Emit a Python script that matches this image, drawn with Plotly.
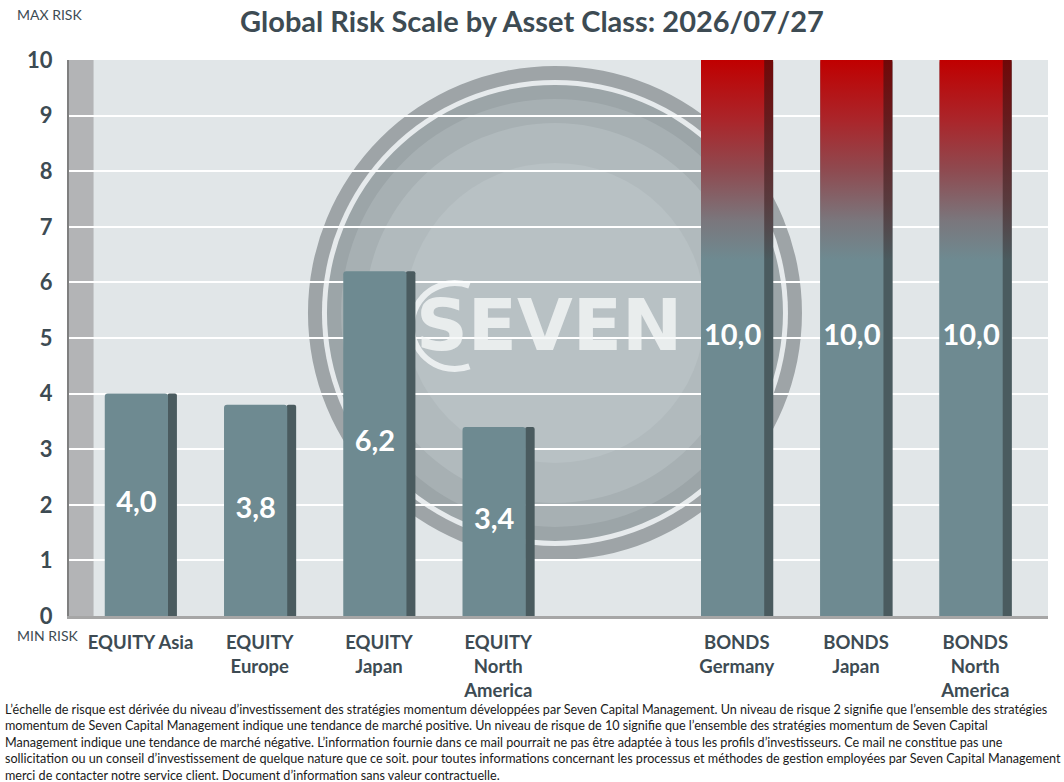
import plotly.graph_objects as go

# ---- data -------------------------------------------------------------
categories = [
    "EQUITY Asia",
    "EQUITY<br>Europe",
    "EQUITY<br>Japan",
    "EQUITY<br>North<br>America",
    "",
    "BONDS<br>Germany",
    "BONDS<br>Japan",
    "BONDS<br>North<br>America",
]
risk = [4.0, 3.8, 6.2, 3.4, None, 10.0, 10.0, 10.0]
y_ticks = list(range(0, 11))
report_date = "2026/07/27"
max_risk = 10

footnote_lines = [
    "L’échelle de risque est dérivée du niveau d’investissement des stratégies momentum développées par Seven Capital Management. Un niveau de risque 2 signifie que l’ensemble des stratégies",
    "momentum de Seven Capital Management indique une tendance de marché positive. Un niveau de risque de 10 signifie que l’ensemble des stratégies momentum de Seven Capital",
    "Management indique une tendance de marché négative. L’information fournie dans ce mail pourrait ne pas être adaptée à tous les profils d’investisseurs. Ce mail ne constitue pas une",
    "sollicitation ou un conseil d’investissement de quelque nature que ce soit. pour toutes informations concernant les processus et méthodes de gestion employées par Seven Capital Management",
    "merci de contacter notre service client. Document d’information sans valeur contractuelle.",
]

# ---- style ------------------------------------------------------------
FONT = "Lato"
TXT = "#3d4b53"
FACE = "#6e8a91"
SIDE = "#4a5b5f"
FACE_L, FACE_W = -0.30, 0.53
SIDE_L, SIDE_W = 0.225, 0.08

face_scale = [
    [0.0, FACE], [0.64, FACE], [0.71, "#7a777d"], [0.80, "#8e4b51"],
    [0.89, "#aa262b"], [1.0, "#c00000"],
]
side_scale = [
    [0.0, SIDE], [0.64, SIDE], [0.75, "#593a3d"], [0.90, "#661a1c"], [1.0, "#700808"],
]

xs = [i for i, v in enumerate(risk) if v is not None]
vals = [v for v in risk if v is not None]

fig = go.Figure()
fig.add_bar(
    x=xs, y=vals, width=SIDE_W, offset=SIDE_L,
    marker=dict(color=SIDE, line_width=0, cornerradius=2),
    hoverinfo="skip",
)
fig.add_bar(
    x=xs, y=vals, width=FACE_W, offset=FACE_L,
    marker=dict(color=FACE, line_width=0, cornerradius=3),
    hovertemplate="%{y:.1f}<extra></extra>",
)

# red gradient for bars at max risk
for x, v in zip(xs, vals):
    if v < max_risk:
        continue
    for left, w, scale in ((SIDE_L, SIDE_W, side_scale), (FACE_L, FACE_W, face_scale)):
        fig.add_scatter(
            x=[x + left, x + left + w, x + left + w, x + left, x + left],
            y=[0, 0, v, v, 0],
            fill="toself",
            mode="lines",
            line=dict(width=0, color="rgba(0,0,0,0)"),
            fillgradient=dict(type="vertical", colorscale=scale, start=0, stop=v),
            hoverinfo="skip",
            showlegend=False,
        )

fig.add_scatter(
    x=[x + FACE_L + FACE_W / 2 for x in xs],
    y=[v / 2 for v in vals],
    mode="text",
    text=[f"{v:.1f}".replace(".", ",") for v in vals],
    textfont=dict(family=FONT, size=29, color="white", weight="bold"),
    hoverinfo="skip",
)

# ---- background decoration ----------------------------------------------
gx, gy = 0.4964, 0.545  # globe centre (paper)


def circle(r, color):
    return dict(
        type="circle", xref="paper", yref="paper", layer="below",
        xsizemode="pixel", ysizemode="pixel", xanchor=gx, yanchor=gy,
        x0=-r, x1=r, y0=-r, y1=r, fillcolor=color, line_width=0,
    )


shapes = [
    dict(type="rect", xref="x", yref="y", x0=-0.6, x1=-0.394, y0=0, y1=10,
         fillcolor="#b3b4b6", line_width=0, layer="below"),
    circle(247, "#9ea4a7"),
    circle(233, "#e6eaec"),
    circle(228, "#9ca5a8"),
    circle(214, "#a7b0b3"),
    circle(190, "#b1babd"),
    circle(150, "#b8c1c4"),
    dict(
        type="path", xref="paper", yref="paper", layer="below",
        xsizemode="pixel", ysizemode="pixel", xanchor=0.394, yanchor=0.5216,
        path="M 14.7,40.4 C -13.3,50.6 -43,29.8 -43,0 C -43,-29.8 -13.3,-50.6 14.7,-40.4",
        line=dict(color="rgba(240,243,244,0.9)", width=6),
    ),
]

annotations = [
    dict(text="SEVEN", xref="paper", yref="paper", x=0.49, y=0.523,
         showarrow=False, font=dict(family="DejaVu Sans", size=72,
                                    color="rgba(245,247,248,0.8)", weight="bold")),
    dict(text="MAX RISK", xref="paper", yref="paper", x=-0.055, y=(616 - 14) / 556,
         xanchor="left", yanchor="middle", showarrow=False,
         font=dict(family=FONT, size=14, color=TXT)),
    dict(text="MIN RISK", xref="paper", yref="paper", x=-0.055, y=(616 - 635) / 556,
         xanchor="left", yanchor="middle", showarrow=False,
         font=dict(family=FONT, size=14, color=TXT)),
]
for i, line in enumerate(footnote_lines):
    annotations.append(dict(
        text=line, xref="paper", yref="paper", x=-0.0674,
        y=(616 - (709 + 16.5 * i)) / 556, xanchor="left", yanchor="middle",
        showarrow=False, font=dict(family=FONT, size=12.6, color="#1a1a1a"),
    ))

fig.update_layout(
    width=1064,
    height=782,
    barmode="overlay",
    showlegend=False,
    paper_bgcolor="white",
    plot_bgcolor="#e1e6e8",
    margin=dict(l=69, r=16, t=60, b=166),
    title=dict(
        text=f"Global Risk Scale by Asset Class: {report_date}",
        x=0.5, xanchor="center", y=1 - 22 / 782, yanchor="middle",
        font=dict(family=FONT, size=29, color=TXT, weight="bold"),
    ),
    xaxis=dict(
        range=[-0.6, 7.61], tickvals=list(range(len(categories))), ticktext=categories,
        tickfont=dict(family=FONT, size=18.5, color=TXT, weight="bold"),
        showgrid=False, zeroline=False, showline=True, linecolor="#a6a6a6", linewidth=3,
        ticks="", ticklabelstandoff=8,
    ),
    yaxis=dict(
        range=[0, 10], tickvals=y_ticks,
        tickfont=dict(family=FONT, size=22, color=TXT, weight="bold"),
        showgrid=True, gridcolor="white", gridwidth=2, zeroline=False,
        showline=True, linecolor="#7f7f7f", linewidth=2, ticks="", ticklabelstandoff=10,
    ),
    shapes=shapes,
    annotations=annotations,
)

fig.write_html(
    "out.html",
    config={"displayModeBar": False},
    post_script="document.body.style.margin = '0';",
)
